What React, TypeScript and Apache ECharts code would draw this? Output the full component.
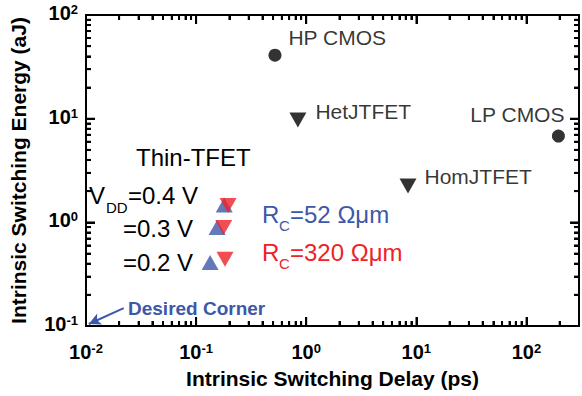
import React, { useEffect, useRef } from 'react';
import * as echarts from 'echarts';

// ---- data ----
const xTickValues = [0.01, 0.1, 1, 10, 100];
const yTickValues = [0.1, 1, 10, 100];
const xRange = [0.01, 300];
const yRange = [0.1, 100];

const cmosNames = ['HP CMOS', 'LP CMOS'];
const cmosDelay = [0.52, 195];
const cmosEnergy = [41, 6.8];

const jtfetNames = ['HetJTFET', 'HomJTFET'];
const jtfetDelay = [0.84, 8.4];
const jtfetEnergy = [9.7, 2.24];

const vddLevels = ['0.4', '0.3', '0.2'];
const thinDelayRc52 = [0.18, 0.155, 0.134];
const thinEnergyRc52 = [1.47, 0.89, 0.41];
const thinDelayRc320 = [0.195, 0.178, 0.183];
const thinEnergyRc320 = [1.45, 0.89, 0.44];

const arrowFrom = [0.022, 0.149];
const arrowTo = [0.0106, 0.1045];

// ---- styles ----
const FONT = '"Liberation Sans", Arial, Helvetica, sans-serif';
const BLUE = '#3d58a8';
const RED = '#ee2228';
const MAJOR_LEN = 9;
const MINOR_LEN = 5;
// tick lengths expressed as log-axis factors (about 9 px major, 5 px minor)
const FX: Record<number, number> = { 9: 1.206, 5: 1.11 };
const FY: Record<number, number> = { 9: 1.221, 5: 1.117 };
const NUDGE = 1.001;

function minorValues(majors: number[], max: number) {
  const out: number[] = [];
  majors.forEach((d) => {
    for (let k = 2; k <= 9; k++) {
      const v = +(d * k).toPrecision(6);
      if (v < max) out.push(v);
    }
  });
  return out;
}

type Tick = { v: number; len: number; side: 'bottom' | 'top' | 'left' | 'right' };

function allTicks(): Tick[] {
  const xs = [...xTickValues];
  const ys = [...yTickValues];
  const out: Tick[] = [];
  xs.forEach((v) => { out.push({ v, len: MAJOR_LEN, side: 'bottom' }); out.push({ v, len: MAJOR_LEN, side: 'top' }); });
  minorValues(xs, xRange[1]).forEach((v) => { out.push({ v, len: MINOR_LEN, side: 'bottom' }); out.push({ v, len: MINOR_LEN, side: 'top' }); });
  ys.forEach((v) => { out.push({ v, len: MAJOR_LEN, side: 'left' }); out.push({ v, len: MAJOR_LEN, side: 'right' }); });
  minorValues(ys, yRange[1]).forEach((v) => { out.push({ v, len: MINOR_LEN, side: 'left' }); out.push({ v, len: MINOR_LEN, side: 'right' }); });
  return out;
}

// segment ends of a tick, both strictly inside the plot area
function tickSegment(t: Tick): number[][] {
  const x0 = xRange[0], x1 = xRange[1], y0 = yRange[0], y1 = yRange[1];
  const fx = FX[t.len], fy = FY[t.len];
  if (t.side === 'bottom') return [[t.v, y0 * NUDGE], [t.v, y0 * fy]];
  if (t.side === 'top') return [[t.v, y1 / NUDGE], [t.v, y1 / fy]];
  if (t.side === 'left') return [[x0 * NUDGE, t.v], [x0 * fx, t.v]];
  return [[x1 / NUDGE, t.v], [x1 / fx, t.v]];
}

// tick drawn as a thin rect symbol centred half-way along the tick
function tickSymbol(t: Tick) {
  const x0 = xRange[0], x1 = xRange[1], y0 = yRange[0], y1 = yRange[1];
  const hx = Math.sqrt(FX[t.len]), hy = Math.sqrt(FY[t.len]);
  if (t.side === 'bottom') return { value: [t.v, y0 * hy], symbolSize: [2, t.len] };
  if (t.side === 'top') return { value: [t.v, y1 / hy], symbolSize: [2, t.len] };
  if (t.side === 'left') return { value: [x0 * hx, t.v], symbolSize: [t.len, 2] };
  return { value: [x1 / hx, t.v], symbolSize: [t.len, 2] };
}

const isPow10 = (v: number) => Math.abs(Math.log10(v) - Math.round(Math.log10(v))) < 1e-6;

const powLabel = (v: number) => {
  if (!isPow10(v)) return '';
  const e = Math.round(Math.log10(v));
  return '{b|10}{s|' + e + '}';
};

function makeAxis(dim: 'x' | 'y', range: number[], majors: number[]) {
  return {
    type: 'log',
    min: range[0],
    max: range[1],
    splitLine: { show: false },
    axisLine: { show: true, onZero: false, lineStyle: { color: '#000', width: 2 } },
    axisTick: {
      show: true,
      inside: true,
      length: MAJOR_LEN,
      customValues: [...majors],
      lineStyle: { color: '#000', width: 2 },
    },
    axisLabel: {
      show: true,
      formatter: powLabel,
      margin: dim === 'x' ? 16 : 8,
      rich: {
        b: { fontSize: 20, fontWeight: 'bold', fontFamily: FONT, color: '#000', lineHeight: 24, verticalAlign: 'top' },
        s: { fontSize: 13, fontWeight: 'bold', fontFamily: FONT, color: '#000', lineHeight: 17, verticalAlign: 'top' },
      },
    },
    name: dim === 'x' ? 'Intrinsic Switching Delay (ps)' : 'Intrinsic Switching Energy (aJ)',
    nameLocation: 'middle',
    nameGap: dim === 'x' ? 42 : 57,
    nameTextStyle: { fontSize: 21, fontWeight: 'bold', fontFamily: FONT, color: '#000' },
  };
}

const cmosLabelPlacement: Record<string, any> = {
  'HP CMOS': { position: 'right', offset: [2, -18] },
  'LP CMOS': { position: 'top', offset: [-41, 0] },
};
const jtfetLabelPlacement: Record<string, any> = {
  HetJTFET: { position: 'right', offset: [4, -9] },
  HomJTFET: { position: 'right', offset: [3, -10] },
};

const annoLabel = () => ({ show: true, formatter: '{b}', fontSize: 21, fontFamily: FONT, color: '#000' });

function txt(x: number, y: number, text: string, size: number, color: string, weight = 'normal') {
  return {
    type: 'text',
    x,
    y,
    silent: true,
    style: {
      text,
      fill: color,
      font: `${weight} ${size}px ${FONT}`,
      textAlign: 'left',
      textVerticalAlign: 'middle',
    },
  };
}

function buildOption() {
  const ticks = allTicks();
  return {
    animation: false,
    grid: { left: 84, right: 2, top: 15, bottom: 70, show: true, borderColor: '#000', borderWidth: 2 },
    xAxis: makeAxis('x', xRange, xTickValues),
    yAxis: makeAxis('y', yRange, yTickValues),
    series: [
      {
        type: 'scatter',
        clip: false,
        symbol: 'rect',
        itemStyle: { color: '#000' },
        data: ticks.map(tickSymbol),
      },
      {
        type: 'scatter',
        name: 'CMOS',
        symbol: 'circle',
        symbolSize: 13,
        itemStyle: { color: '#000' },
        data: cmosDelay.map((x, i) => ({
          value: [x, cmosEnergy[i]],
          name: cmosNames[i],
          label: { ...annoLabel(), ...cmosLabelPlacement[cmosNames[i]] },
        })),
        markLine: {
          silent: true,
          animation: false,
          symbol: ['none', 'arrow'],
          symbolSize: [9, 12],
          lineStyle: { color: BLUE, width: 2, type: 'solid' },
          label: { show: false },
          data: [[{ coord: [...arrowFrom] }, { coord: [...arrowTo] }]],
        },
      },
      {
        type: 'scatter',
        name: 'JTFET',
        symbol: 'triangle',
        symbolRotate: 180,
        symbolSize: [17, 15],
        itemStyle: { color: '#000' },
        data: jtfetDelay.map((x, i) => ({
          value: [x, jtfetEnergy[i]],
          name: jtfetNames[i],
          label: { ...annoLabel(), ...jtfetLabelPlacement[jtfetNames[i]] },
        })),
        markLine: {
          silent: true,
          animation: false,
          symbol: ['none', 'none'],
          lineStyle: { color: '#000', width: 2, type: 'solid', opacity: 1 },
          label: { show: false },
          data: ticks.map((t) => {
            const s = tickSegment(t);
            return [{ coord: s[0] }, { coord: s[1] }];
          }),
        },
      },
      {
        type: 'scatter',
        name: 'Thin-TFET Rc=52',
        symbol: 'triangle',
        symbolSize: [17, 15],
        itemStyle: { color: BLUE },
        data: thinDelayRc52.map((x, i) => ({ value: [x, thinEnergyRc52[i]], name: vddLevels[i] })),
      },
      {
        type: 'scatter',
        name: 'Thin-TFET Rc=320',
        symbol: 'triangle',
        symbolRotate: 180,
        symbolSize: [17, 15],
        itemStyle: { color: RED },
        data: thinDelayRc320.map((x, i) => ({ value: [x, thinEnergyRc320[i]], name: vddLevels[i] })),
      },
    ],
    graphic: [
      txt(136, 157, 'Thin-TFET', 24, '#000'),
      txt(89, 195, 'V', 24, '#000'),
      txt(106, 207, 'DD', 15, '#000'),
      txt(128, 195, '=' + vddLevels[0] + ' V', 24, '#000'),
      txt(123, 228, '=' + vddLevels[1] + ' V', 24, '#000'),
      txt(123, 262, '=' + vddLevels[2] + ' V', 24, '#000'),
      txt(262, 214, 'R', 24, BLUE),
      txt(279, 225, 'C', 15, BLUE),
      txt(290, 214, '=52 Ωμm', 24, BLUE),
      txt(262, 252, 'R', 24, RED),
      txt(279, 263, 'C', 15, RED),
      txt(290, 252, '=320 Ωμm', 24, RED),
      txt(128, 308, 'Desired Corner', 19, BLUE, 'bold'),
    ],
  };
}

export default function App() {
  const ref = useRef<HTMLDivElement>(null);
  useEffect(() => {
    if (!ref.current) return;
    const chart = echarts.init(ref.current, null, { renderer: 'svg' });
    chart.setOption(buildOption() as any);
    return () => chart.dispose();
  }, []);
  return <div ref={ref} style={{ position: 'absolute', left: 0, top: 0, width: 582, height: 396 }} />;
}
